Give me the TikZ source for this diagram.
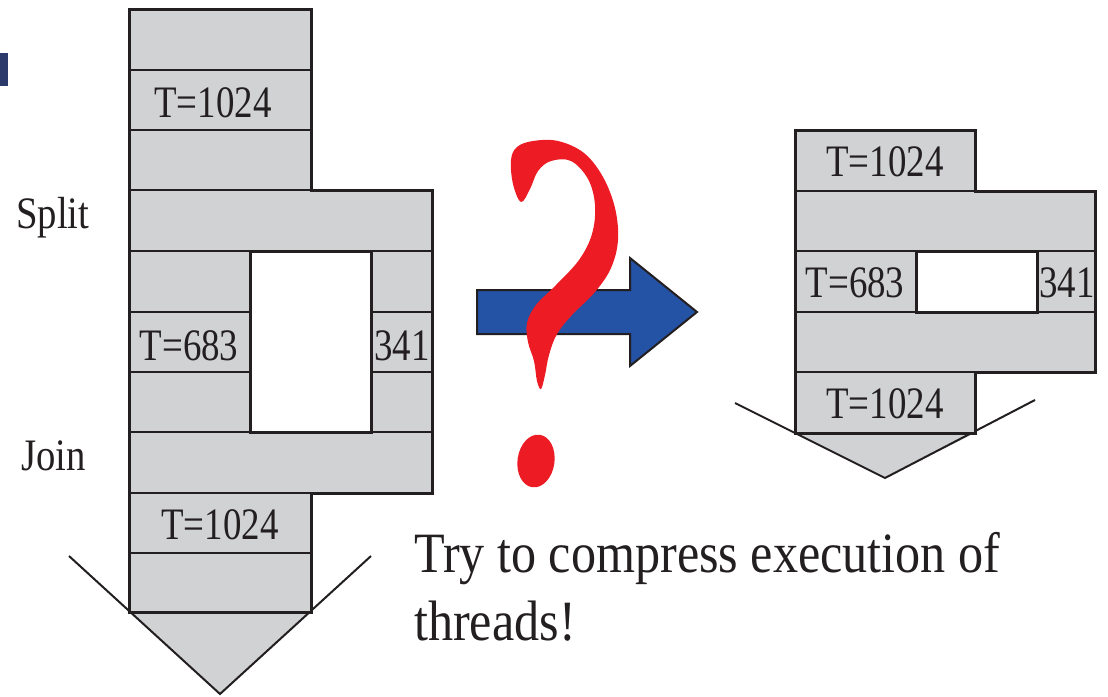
\documentclass[tikz,border=0pt]{standalone}
\usepackage{fontspec}
\setmainfont{Liberation Serif}
\newfontfamily\lblfont[FakeStretch=0.82]{Liberation Serif}
\newfontfamily\sidefont[FakeStretch=0.86]{Liberation Serif}
\newfontfamily\txtfont[FakeStretch=0.88]{Liberation Serif}
\definecolor{blockgray}{HTML}{D1D2D4}
\definecolor{inkline}{HTML}{231F20}
\definecolor{qred}{HTML}{ED1C24}
\definecolor{arrowblue}{HTML}{2452A4}
\definecolor{barnavy}{HTML}{2B3A6B}
\tikzset{
  outline/.style={draw=inkline, line width=3pt, line join=miter},
  rowline/.style={draw=inkline, line width=1.4pt},
  hole/.style={fill=white, draw=inkline, line width=3pt},
  chevron/.style={draw=inkline, line width=2pt},
  lbl/.style={inner sep=0pt, anchor=base, text=inkline, font=\lblfont\fontsize{45}{54}\selectfont},
  sidelbl/.style={inner sep=0pt, anchor=base west, text=inkline, font=\sidefont\fontsize{45}{54}\selectfont},
  bodytext/.style={inner sep=0pt, anchor=base west, text=inkline, font=\txtfont\fontsize{57}{68}\selectfont}
}
\begin{document}
\begin{tikzpicture}[x=1pt, y=-1pt]
\useasboundingbox (0,0) rectangle (1108,696);

% small navy bar at the left edge
\fill[barnavy] (0,53) rectangle (8,86);

% ---------- left block: split / join ----------
\fill[blockgray] (129,612) -- (311,612) -- (220,694) -- cycle;
\draw[chevron] (69,556) -- (220,694) -- (371,556);
\filldraw[fill=blockgray, outline] (129,9) -- (311,9) -- (311,190) -- (432,190) -- (432,493)
  -- (311,493) -- (311,612) -- (129,612) -- cycle;
\foreach \yy in {70,130,190,493,553,612}
  \draw[rowline] (129,\yy) -- (311,\yy);
\foreach \yy in {251,432}
  \draw[rowline] (129,\yy) -- (432,\yy);
\foreach \yy in {312,372} {
  \draw[rowline] (129,\yy) -- (250,\yy);
  \draw[rowline] (371,\yy) -- (432,\yy);
}
\draw[hole] (250,251) rectangle (371,432);
\draw[outline] (129,9) -- (311,9) -- (311,190) -- (432,190) -- (432,493)
  -- (311,493) -- (311,612);
\draw[outline] (129,612) -- (129,9);

\node[lbl] (lt1024) at (213,117) {T=1024};
\node[lbl] (l683) at (189,360) {T=683};
\node[lbl] (l341) at (402,360) {341};
\node[lbl] (lb1024) at (220,539) {T=1024};
\node[sidelbl] (split) at (16,228) {Split};
\node[sidelbl] (join) at (21,470) {Join};

% ---------- blue arrow ----------
\filldraw[fill=arrowblue, draw=inkline, line width=2pt, line join=miter]
  (477,290) -- (630,290) -- (630,258) -- (697,312) -- (630,366) -- (630,334) -- (477,334) -- cycle;

% ---------- red question mark ----------
\fill[qred] plot[smooth cycle, tension=0.6] coordinates {
  (521,202) (513,184) (511,160) (517,147) (533,141) (558,141) (584,153) (603,177)
  (615,208) (618,240) (611,268) (595,292) (572,315) (557,334) (549,355) (545,375)
  (541,389) (537,381) (534,361) (528,342) (527,323) (536,305) (556,285) (579,260)
  (592,234) (595,205) (588,179) (571,161) (551,161) (538,171) (530,189)
};
\fill[qred, rotate around={-8:(536,461)}] (536,461) ellipse [x radius=18.5, y radius=26.5];

% ---------- right block: compressed ----------
\fill[blockgray] (795,433) -- (975,433) -- (885,478) -- cycle;
\draw[chevron] (735,403) -- (885,478) -- (1035,400);
\filldraw[fill=blockgray, outline] (795,130) -- (975,130) -- (975,191) -- (1095,191) -- (1095,372)
  -- (975,372) -- (975,433) -- (795,433) -- cycle;
\draw[rowline] (795,191) -- (975,191);
\draw[rowline] (795,251) -- (1095,251);
\draw[rowline] (795,312) -- (916,312);
\draw[rowline] (1037,312) -- (1095,312);
\draw[rowline] (795,372) -- (975,372);
\draw[rowline] (795,433) -- (975,433);
\draw[hole] (916,251) rectangle (1037,312);
\draw[outline] (795,433) -- (795,130) -- (975,130) -- (975,191) -- (1095,191) -- (1095,372)
  -- (975,372) -- (975,433);

\node[lbl] (rt1024) at (885,176) {T=1024};
\node[lbl] (r683) at (855,297) {T=683};
\node[lbl] (r341) at (1067,297) {341};
\node[lbl] (rb1024) at (885,418) {T=1024};

% ---------- caption ----------
\node[bodytext] (line1) at (414,572) {Try to compress execution of};
\node[bodytext] (line2) at (414,640) {threads!};
\end{tikzpicture}
\end{document}
